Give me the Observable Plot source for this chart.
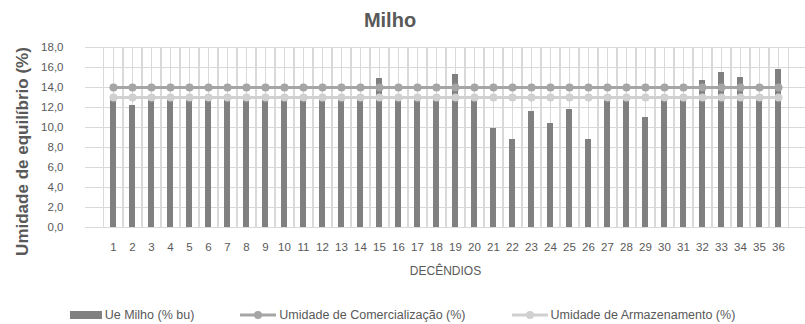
<!DOCTYPE html>
<html>
<head>
<meta charset="utf-8">
<script src="https://cdn.jsdelivr.net/npm/d3@7"></script>
<script src="https://cdn.jsdelivr.net/npm/@observablehq/plot@0.6"></script>
<style>
  html, body { margin: 0; padding: 0; background: #fff; }
  body { width: 805px; height: 324px; overflow: hidden; font-family: "Liberation Sans", Arial, sans-serif; color: #595959; }
  #title { height: 36px; position: relative; }
  #title span { position: absolute; left: 390px; top: 9px; transform: translateX(-50%); font-weight: bold; font-size: 20px; color: #595959; }
  #chart svg { overflow: visible; display: block; }
  #legend { display: flex; justify-content: center; align-items: center; gap: 46px; font-size: 12.5px; color: #595959; margin-top: 22px; }
  #legend .item { display: flex; align-items: center; gap: 3px; }
</style>
</head>
<body>
<div id="title"><span>Milho</span></div>
<div id="chart"></div>
<div id="legend"></div>
<script>
const title = "Milho";
const yLabel = "Umidade de equilíbrio (%)";
const xLabel = "DECÊNDIOS";
const seriesNames = ["Ue Milho (% bu)", "Umidade de Comercialização (%)", "Umidade de Armazenamento (%)"];
const decendios = [1,2,3,4,5,6,7,8,9,10,11,12,13,14,15,16,17,18,19,20,21,22,23,24,25,26,27,28,29,30,31,32,33,34,35,36];
const ueMilho = [12.7,12.2,12.7,12.7,12.7,12.7,12.7,12.7,12.7,12.7,12.7,12.7,12.7,12.7,14.9,12.7,12.7,12.7,15.3,12.7,9.9,8.8,11.6,10.4,11.8,8.8,12.7,12.7,11.0,12.7,12.7,14.7,15.5,15.0,12.7,15.8];
const comercializacao = [14,14,14,14,14,14,14,14,14,14,14,14,14,14,14,14,14,14,14,14,14,14,14,14,14,14,14,14,14,14,14,14,14,14,14,14];
const armazenamento = [13,13,13,13,13,13,13,13,13,13,13,13,13,13,13,13,13,13,13,13,13,13,13,13,13,13,13,13,13,13,13,13,13,13,13,13];
const yTicks = [0,2,4,6,8,10,12,14,16,18];

const colors = { bar: "#808080", com: "#a5a5a5", arm: "#d0d0d0", grid: "#d9d9d9", text: "#595959" };

const data = decendios.map((d, i) => ({ d, ue: ueMilho[i], com: comercializacao[i], arm: armazenamento[i] }));
const fmt = v => v.toFixed(1).replace(".", ",");

const plot = Plot.plot({
  width: 805,
  height: 250,
  marginLeft: 85,
  marginRight: 0,
  marginTop: 11,
  marginBottom: 59,
  style: { fontFamily: "'Liberation Sans', Arial, sans-serif", fontSize: "11px", color: colors.text, background: "#fff", overflow: "visible" },
  x: { type: "band", domain: decendios, padding: 0.7, label: null },
  y: { domain: [0, 18], label: null },
  marks: [
    Plot.ruleY(yTicks, { stroke: colors.grid, strokeWidth: 1 }),
    Plot.ruleX(decendios, { x: d => d, stroke: colors.grid, dx: -10 }),
    Plot.ruleX(decendios, { x: d => d, stroke: colors.grid }),
    Plot.ruleX(decendios, { x: d => d, stroke: colors.grid, dx: 10 }),
    Plot.barY(data, { x: "d", y: "ue", fill: colors.bar }),
    Plot.line(data, { x: "d", y: "com", stroke: colors.com, strokeWidth: 3 }),
    Plot.dot(data, { x: "d", y: "com", fill: colors.com, r: 4 }),
    Plot.line(data, { x: "d", y: "arm", stroke: colors.arm, strokeWidth: 3 }),
    Plot.dot(data, { x: "d", y: "arm", fill: colors.arm, r: 4 }),
    Plot.axisY({ ticks: yTicks, tickFormat: fmt, tickSize: 0, tickPadding: 22, fontSize: 11.5, label: null }),
    Plot.axisX({ tickSize: 0, tickPadding: 15, fontSize: 11.5, label: null }),
    Plot.text([xLabel], { frameAnchor: "bottom", dy: 47, fontSize: 12, fill: colors.text }),
    Plot.text([yLabel], { frameAnchor: "left", textAnchor: "middle", rotate: -90, dx: -63, dy: 14, fontSize: 17, fontWeight: "bold", fill: colors.text })
  ]
});
document.getElementById("chart").appendChild(plot);

const legend = document.getElementById("legend");
const swatches = [
  `<svg width="32" height="10"><rect x="0" y="1" width="32" height="8" fill="${colors.bar}"/></svg>`,
  `<svg width="36" height="10"><line x1="0" x2="36" y1="5" y2="5" stroke="${colors.com}" stroke-width="3"/><circle cx="18" cy="5" r="4" fill="${colors.com}"/></svg>`,
  `<svg width="36" height="10"><line x1="0" x2="36" y1="5" y2="5" stroke="${colors.arm}" stroke-width="3"/><circle cx="18" cy="5" r="4" fill="${colors.arm}"/></svg>`
];
seriesNames.forEach((name, i) => {
  const it = document.createElement("div");
  it.className = "item";
  it.innerHTML = swatches[i] + `<span>${name}</span>`;
  legend.appendChild(it);
});
</script>
</body>
</html>
